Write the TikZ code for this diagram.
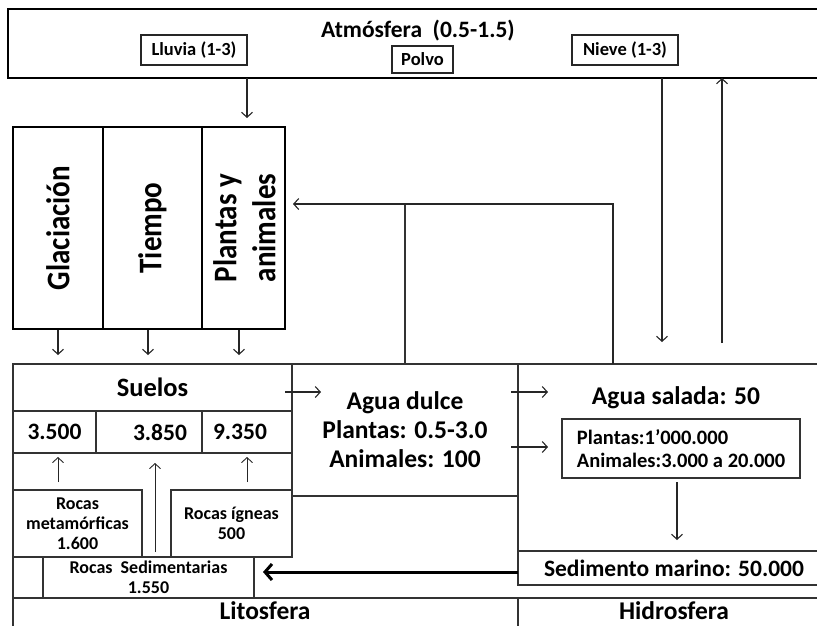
\documentclass[tikz,border=0pt]{standalone}
\usepackage{fontspec}
\setmainfont{Carlito}
\newfontfamily\rotfont{Carlito}[FakeStretch=0.88]
\usetikzlibrary{arrows.meta}
\tikzset{
  ln/.style={draw=black!80, line width=1.2pt},
  box/.style={ln, inner sep=0pt, outer sep=0pt, anchor=north west, align=center, font=\bfseries, text=black},
  bigbox/.style={box, draw=black, line width=1.6pt},
  arr/.style={draw=black!85, line width=1.1pt, -{Straight Barb[length=5pt,width=11pt]}},
  thickarr/.style={draw=black, line width=3pt, -{Straight Barb[length=7pt,width=16pt]}},
  txt/.style={inner sep=0pt, align=center, text=black},
  rot/.style={txt, rotate=90, align=left, font=\rotfont\bfseries\fontsize{33}{39}\selectfont},
}
\newcommand{\fAtm}{\bfseries\fontsize{23.5}{27}\selectfont}
\newcommand{\fLab}{\bfseries\fontsize{18.5}{22}\selectfont}
\newcommand{\fBig}{\bfseries\fontsize{25.5}{29}\selectfont}
\newcommand{\fNum}{\bfseries\fontsize{23.5}{27}\selectfont}
\newcommand{\fRock}{\bfseries\fontsize{18}{20}\selectfont}
\newcommand{\fIn}{\bfseries\fontsize{20.5}{23}\selectfont}
\begin{document}
\begin{tikzpicture}[x=1pt,y=-1pt]
\useasboundingbox (0,0) rectangle (817,625);
% atmosphere
\node[bigbox, minimum width=812pt, minimum height=69pt] (atm) at (8,9) {};
\node[txt, font=\fAtm] (atmt) at (418,31) {Atmósfera\ \ (0.5-1.5)};
\node[box, draw=black!85, line width=1.1pt, minimum width=106pt, minimum height=30pt, font=\fLab] (lluvia) at (141,35) {Lluvia (1-3)};
\node[box, draw=black!85, line width=1.1pt, minimum width=61pt, minimum height=27pt, font=\fLab] (polvo) at (392,46) {Polvo};
\node[box, draw=black!85, line width=1.1pt, minimum width=106pt, minimum height=30pt, font=\fLab] (nieve) at (572,35) {Nieve (1-3)};
% big vertical boxes
\node[bigbox, minimum width=90pt, minimum height=202pt] (glac) at (13,127) {};
\node[bigbox, minimum width=99pt, minimum height=202pt] (tiem) at (103,127) {};
\node[bigbox, minimum width=83pt, minimum height=202pt] (plan) at (202,127) {};
\node[rot] (glact) at (glac.center) {Glaciación};
\node[rot] (tiemt) at (tiem.center) {Tiempo};
\node[rot] (plant) at ([xshift=1pt]plan.center) {Plantas y\\animales};
% lithosphere part
\node[box, minimum width=279pt, minimum height=47pt, font=\bfseries\fontsize{26.5}{30}\selectfont] (suelos) at (13,364) {Suelos};
\node[box, minimum width=83pt, minimum height=42pt, font=\fNum] (n1) at (13,411) {3.500};
\node[box, minimum width=106pt, minimum height=42pt, font=\fNum] (n2) at (96,411) {\hspace*{22pt}3.850};
\node[box, minimum width=90pt, minimum height=42pt, font=\fNum] (n3) at (202,411) {9.350\hspace*{14pt}};
\node[box, minimum width=129pt, minimum height=67pt, font=\fRock] (meta) at (13,490) {Rocas\\metamórficas\\1.600};
\node[box, minimum width=121pt, minimum height=67pt, font=\fRock] (igne) at (171,490) {Rocas ígneas\\500};
\node[box, minimum width=30pt, minimum height=41pt] (sed0) at (13,557) {};
\node[box, minimum width=211pt, minimum height=41pt, font=\fRock] (sedr) at (43,557) {Rocas\ \ Sedimentarias\\1.550};
\draw[ln] (suelos.north west) -- (sed0.south west);
\draw[ln] (suelos.north east) -- (igne.south east);
% water
\node[box, minimum width=226pt, minimum height=132pt, font=\fBig] (dulce) at (292,364) {Agua dulce\\Plantas: 0.5-3.0\\Animales: 100};
\node[box, minimum width=300pt, minimum height=187pt] (salada) at (518,364) {};
\node[txt, font=\fBig] (saladat) at (676,398) {Agua salada: 50};
\node[box, minimum width=238pt, minimum height=59pt, align=left, font=\fIn] (inner) at (562,419) {Plantas:1’000.000\\Animales:3.000 a 20.000};
\node[box, minimum width=300pt, minimum height=34pt, font=\bfseries\fontsize{23.5}{27}\selectfont] (sedm) at (518,551) {\hspace*{12pt}Sedimento marino: 50.000};
% bottom headers
\node[box, minimum width=505pt, minimum height=32pt] (lito) at (13,598) {};
\node[box, minimum width=300pt, minimum height=32pt] (hidro) at (518,598) {};
\node[txt, font=\fBig, anchor=base] (litot) at (265,619) {Litosfera};
\node[txt, font=\fBig, anchor=base] (hidrot) at (674,619) {Hidrosfera};
% arrows
\draw[arr] (atm.south -| lluvia.east) -- ([yshift=9pt]plan.north -| lluvia.east);
\coordinate (dn) at (662,342);
\coordinate (up) at (722,343);
\draw[arr] (atm.south -| dn) -- (dn);
\draw[arr] (up) -- (atm.south -| up);
\draw[arr, shorten <=1pt, shorten >=9pt] (glac.south) -- (glac.south |- suelos.north);
\draw[arr, shorten <=1pt, shorten >=9pt] ([xshift=-4.5pt]tiem.south) -- ([xshift=-4.5pt]tiem.south |- suelos.north);
\draw[arr, shorten <=1pt, shorten >=9pt] ([xshift=-4.5pt]plan.south) -- ([xshift=-4.5pt]plan.south |- suelos.north);
\coordinate (cj) at (405,204);
\coordinate (ck) at (613,204);
\draw[ln, line width=1.1pt] (dulce.north -| cj) -- (cj);
\draw[arr] (salada.north -| ck) -- (ck) -- ([xshift=8pt]plan.east |- ck);
\draw[arr] ([xshift=-7pt,yshift=-4.5pt]suelos.east) -- ++(36,0);
\draw[arr] ([xshift=-7pt,yshift=38pt]dulce.east) -- ++(37,0);
\draw[arr] ([xshift=-7pt,yshift=-17pt]dulce.east) -- ++(37,0);
\draw[arr] ([xshift=-4pt,yshift=-4pt]inner.south) -- ([xshift=-4pt,yshift=11pt]inner.south |- sedm.north);
\coordinate (a1s) at (58,482);  \coordinate (a1e) at (58,457);
\coordinate (a2s) at (155,552); \coordinate (a2e) at (155,463);
\coordinate (a3s) at (247,482); \coordinate (a3e) at (247,457);
\draw[arr, line width=0.9pt] (a1s) -- (a1e);
\draw[arr, line width=0.9pt] (a2s) -- (a2e);
\draw[arr, line width=0.9pt] (a3s) -- (a3e);
\draw[thickarr] ([yshift=-4pt]sedm.west) -- ([xshift=9pt,yshift=-4pt]sedr.east |- sedm.west);
\end{tikzpicture}
\end{document}
